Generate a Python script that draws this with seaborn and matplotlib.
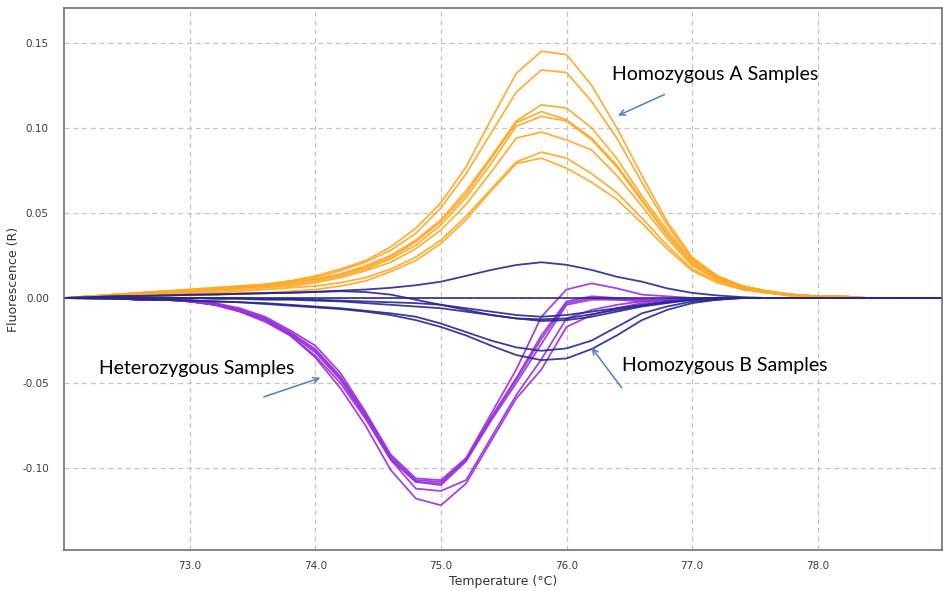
import pandas as pd
import matplotlib
matplotlib.use("Agg")
import matplotlib.pyplot as plt
import seaborn as sns

# Temperature steps (deg C)
temps = [72.0, 72.2, 72.4, 72.6, 72.8, 73.0, 73.2, 73.4, 73.6, 73.8,
         74.0, 74.2, 74.4, 74.6, 74.8, 75.0, 75.2, 75.4, 75.6, 75.8,
         76.0, 76.2, 76.4, 76.6, 76.8, 77.0, 77.2, 77.4, 77.6, 77.8,
         78.0, 78.2, 78.4, 78.6, 78.8, 79.0]

# Homozygous A samples (positive peaks)
hom_a_1 = [0.000, 0.001, 0.002, 0.003, 0.004, 0.005, 0.006, 0.007, 0.008, 0.010,
           0.013, 0.017, 0.022, 0.030, 0.041, 0.056, 0.077, 0.105, 0.132, 0.145,
           0.143, 0.125, 0.100, 0.072, 0.045, 0.024, 0.013, 0.007, 0.004, 0.002,
           0.001, 0.001, 0.000, 0.000, 0.000, 0.000]
hom_a_2 = [0.000, 0.001, 0.002, 0.003, 0.004, 0.005, 0.006, 0.007, 0.008, 0.010,
           0.012, 0.016, 0.021, 0.028, 0.038, 0.053, 0.073, 0.097, 0.121, 0.134,
           0.1325, 0.1155, 0.094, 0.068, 0.043, 0.023, 0.013, 0.007, 0.004, 0.002,
           0.001, 0.001, 0.000, 0.000, 0.000, 0.000]
hom_a_3 = [0.000, 0.001, 0.002, 0.003, 0.004, 0.004, 0.005, 0.006, 0.007, 0.009,
           0.011, 0.014, 0.019, 0.025, 0.034, 0.046, 0.063, 0.083, 0.104, 0.1135,
           0.1116, 0.100, 0.082, 0.060, 0.040, 0.022, 0.012, 0.007, 0.004, 0.002,
           0.001, 0.001, 0.000, 0.000, 0.000, 0.000]
hom_a_4 = [0.000, 0.001, 0.002, 0.003, 0.003, 0.004, 0.005, 0.006, 0.007, 0.009,
           0.011, 0.014, 0.018, 0.024, 0.033, 0.045, 0.061, 0.082, 0.103, 0.1096,
           0.1047, 0.094, 0.078, 0.058, 0.038, 0.021, 0.012, 0.007, 0.004, 0.002,
           0.001, 0.001, 0.000, 0.000, 0.000, 0.000]
hom_a_5 = [0.000, 0.001, 0.002, 0.002, 0.003, 0.004, 0.005, 0.006, 0.007, 0.008,
           0.010, 0.013, 0.017, 0.023, 0.031, 0.043, 0.059, 0.079, 0.101, 0.1067,
           0.104, 0.093, 0.077, 0.057, 0.037, 0.020, 0.011, 0.006, 0.003, 0.002,
           0.001, 0.000, 0.000, 0.000, 0.000, 0.000]
hom_a_6 = [0.000, 0.001, 0.001, 0.002, 0.003, 0.004, 0.004, 0.005, 0.006, 0.007,
           0.009, 0.012, 0.016, 0.021, 0.029, 0.040, 0.055, 0.074, 0.094, 0.0975,
           0.0929, 0.087, 0.072, 0.054, 0.035, 0.019, 0.011, 0.006, 0.003, 0.002,
           0.001, 0.000, 0.000, 0.000, 0.000, 0.000]
hom_a_7 = [0.000, 0.000, 0.001, 0.001, 0.002, 0.003, 0.003, 0.004, 0.005, 0.006,
           0.007, 0.009, 0.012, 0.017, 0.024, 0.034, 0.048, 0.064, 0.080, 0.0857,
           0.0822, 0.073, 0.062, 0.047, 0.031, 0.017, 0.010, 0.005, 0.003, 0.002,
           0.001, 0.000, 0.000, 0.000, 0.000, 0.000]
hom_a_8 = [0.000, 0.000, 0.000, 0.001, 0.001, 0.002, 0.002, 0.003, 0.003, 0.004,
           0.005, 0.007, 0.010, 0.0155, 0.022, 0.032, 0.046, 0.063, 0.079, 0.0822,
           0.0763, 0.068, 0.058, 0.044, 0.029, 0.016, 0.009, 0.005, 0.003, 0.001,
           0.001, 0.000, 0.000, 0.000, 0.000, 0.000]

# Heterozygous samples (deep negative troughs)
het_1 = [0.000, 0.000, 0.000, -0.001, -0.001, -0.001, -0.003, -0.006, -0.011, -0.019,
         -0.028, -0.044, -0.067, -0.092, -0.106, -0.107, -0.094, -0.068, -0.042, -0.011,
         0.005, 0.0086, 0.0057, 0.002, 0.001, 0.000, 0.000, 0.000, 0.000, 0.000,
         0.000, 0.000, 0.000, 0.000, 0.000, 0.000]
het_2 = [0.000, 0.000, 0.000, -0.001, -0.001, -0.002, -0.003, -0.007, -0.012, -0.020,
         -0.030, -0.046, -0.068, -0.093, -0.107, -0.108, -0.095, -0.070, -0.047, -0.022,
         -0.002, 0.001, 0.000, -0.001, -0.001, 0.000, 0.000, 0.000, 0.000, 0.000,
         0.000, 0.000, 0.000, 0.000, 0.000, 0.000]
het_3 = [0.000, 0.000, 0.000, -0.001, -0.001, -0.002, -0.004, -0.007, -0.012, -0.021,
         -0.031, -0.047, -0.069, -0.094, -0.108, -0.109, -0.095, -0.071, -0.048, -0.024,
         -0.003, 0.000, -0.001, -0.001, -0.001, 0.000, 0.000, 0.000, 0.000, 0.000,
         0.000, 0.000, 0.000, 0.000, 0.000, 0.000]
het_4 = [0.000, 0.000, 0.000, -0.001, -0.001, -0.002, -0.004, -0.007, -0.013, -0.021,
         -0.032, -0.048, -0.070, -0.095, -0.108, -0.110, -0.096, -0.072, -0.050, -0.027,
         -0.004, -0.001, -0.001, -0.002, -0.001, 0.000, 0.000, 0.000, 0.000, 0.000,
         0.000, 0.000, 0.000, 0.000, 0.000, 0.000]
het_5 = [0.000, 0.000, 0.000, -0.001, -0.001, -0.002, -0.004, -0.008, -0.013, -0.022,
         -0.034, -0.050, -0.071, -0.095, -0.112, -0.1134, -0.107, -0.082, -0.057, -0.036,
         -0.012, -0.007, -0.004, -0.002, -0.001, 0.000, 0.000, 0.000, 0.000, 0.000,
         0.000, 0.000, 0.000, 0.000, 0.000, 0.000]
het_6 = [0.000, 0.000, 0.000, -0.001, -0.001, -0.002, -0.004, -0.008, -0.014, -0.022,
         -0.035, -0.053, -0.075, -0.101, -0.1178, -0.1218, -0.109, -0.084, -0.059, -0.042,
         -0.017, -0.010, -0.006, -0.003, -0.001, 0.000, 0.000, 0.000, 0.000, 0.000,
         0.000, 0.000, 0.000, 0.000, 0.000, 0.000]

# Homozygous B samples (small curves around zero)
hom_b_1 = [0.000, 0.0005, 0.001, 0.0012, 0.0015, 0.0018, 0.002, 0.0024, 0.0028, 0.0032,
           0.0037, 0.0043, 0.005, 0.006, 0.0075, 0.0096, 0.013, 0.0165, 0.0194, 0.021,
           0.0195, 0.0165, 0.0125, 0.0096, 0.0057, 0.003, 0.0015, 0.0005, 0.000, 0.000,
           0.000, 0.000, 0.000, 0.000, 0.000, 0.000]
hom_b_2 = [0.0] * 36
hom_b_3 = [0.000, 0.000, 0.000, 0.000, 0.000, 0.000, 0.000, 0.000, -0.0005, -0.0005,
           -0.001, -0.0015, -0.002, -0.0025, -0.003, -0.004, -0.006, -0.008, -0.010, -0.011,
           -0.010, -0.008, -0.006, -0.004, -0.002, -0.001, 0.000, 0.000, 0.000, 0.000,
           0.000, 0.000, 0.000, 0.000, 0.000, 0.000]
hom_b_4 = [0.000, 0.000, 0.000, 0.000, 0.000, 0.000, -0.0005, -0.0005, -0.001, -0.001,
           -0.0015, -0.002, -0.003, -0.004, -0.005, -0.006, -0.008, -0.010, -0.012, -0.0125,
           -0.012, -0.0095, -0.007, -0.0045, -0.0025, -0.001, 0.000, 0.000, 0.000, 0.000,
           0.000, 0.000, 0.000, 0.000, 0.000, 0.000]
hom_b_5 = [0.000, 0.0005, 0.001, 0.0012, 0.0015, 0.002, 0.0022, 0.0025, 0.0028, 0.003,
           0.0035, 0.004, 0.0035, 0.002, -0.001, -0.004, -0.007, -0.010, -0.012, -0.0135,
           -0.013, -0.011, -0.008, -0.005, -0.003, -0.001, 0.000, 0.000, 0.000, 0.000,
           0.000, 0.000, 0.000, 0.000, 0.000, 0.000]
hom_b_6 = [0.000, -0.0003, -0.0005, -0.0008, -0.001, -0.0015, -0.002, -0.0025, -0.003, -0.004,
           -0.005, -0.006, -0.0075, -0.009, -0.011, -0.015, -0.020, -0.025, -0.029, -0.031,
           -0.0296, -0.025, -0.017, -0.009, -0.005, -0.002, -0.001, 0.000, 0.000, 0.000,
           0.000, 0.000, 0.000, 0.000, 0.000, 0.000]
hom_b_7 = [0.000, -0.0003, -0.0005, -0.0008, -0.001, -0.0015, -0.002, -0.0025, -0.0035, -0.0045,
           -0.0055, -0.0065, -0.008, -0.010, -0.013, -0.017, -0.022, -0.028, -0.0335, -0.0365,
           -0.0355, -0.030, -0.022, -0.013, -0.007, -0.003, -0.001, 0.000, 0.000, 0.000,
           0.000, 0.000, 0.000, 0.000, 0.000, 0.000]

groups = {
    "Homozygous A": [hom_a_1, hom_a_2, hom_a_3, hom_a_4, hom_a_5, hom_a_6, hom_a_7, hom_a_8],
    "Heterozygous": [het_1, het_2, het_3, het_4, het_5, het_6],
    "Homozygous B": [hom_b_1, hom_b_2, hom_b_3, hom_b_4, hom_b_5, hom_b_6, hom_b_7],
}
colors = {"Homozygous A": "#ffa824", "Heterozygous": "#9a30dc", "Homozygous B": "#27278e"}

x_ticks = [73.0, 74.0, 75.0, 76.0, 77.0, 78.0]
y_ticks = [-0.10, -0.05, 0.00, 0.05, 0.10, 0.15]

# Build long-form table
rows = []
for group, curves in groups.items():
    for i, curve in enumerate(curves):
        rows.append(pd.DataFrame({"temp": temps, "fluor": curve,
                                  "group": group, "sample": f"{group}_{i}"}))
df = pd.concat(rows, ignore_index=True)

sns.set_style("white")
fig = plt.figure(figsize=(9.43, 5.91), dpi=100)
ax = fig.add_axes([0.068, 0.069, 0.931, 0.918])

for group in ["Homozygous A", "Heterozygous", "Homozygous B"]:
    sns.lineplot(data=df[df["group"] == group], x="temp", y="fluor", units="sample",
                 estimator=None, color=colors[group], linewidth=1.3, alpha=0.9, ax=ax)

ax.set_xlim(72.0, 78.99)
ax.set_ylim(-0.1482, 0.1706)
ax.set_xticks(x_ticks)
ax.set_xticklabels([f"{t:.1f}" for t in x_ticks])
ax.set_yticks(y_ticks)
ax.set_yticklabels([f"{t:.2f}" for t in y_ticks])
ax.tick_params(length=0, labelsize=7.5, labelcolor="#3a3a3a")
ax.tick_params(axis="y", pad=11)
ax.tick_params(axis="x", pad=8)
ax.grid(True, color="#c4c4c4", linestyle=(0, (4, 3)), linewidth=0.9)
ax.set_axisbelow(True)
for side in ax.spines.values():
    side.set_color("#707078")
    side.set_linewidth(1.2)

ax.set_xlabel("Temperature (°C)", fontsize=9, color="#333333", labelpad=3)
ax.set_ylabel("Fluorescence (R)", fontsize=9, color="#333333")
ax.yaxis.set_label_coords(-0.05, 0.5)

# Annotations
arrow_kw = dict(arrowstyle="->", color="#4f81bd", lw=1.1, shrinkA=0, shrinkB=0)
text_kw = dict(fontsize=14, family="Lato", va="center", color="black")
ax.text(76.36, 0.1314, "Homozygous A Samples", **text_kw)
ax.annotate("", xy=(76.41, 0.1072), xytext=(76.78, 0.1196), arrowprops=arrow_kw)
ax.text(72.28, -0.0416, "Heterozygous Samples", **text_kw)
ax.annotate("", xy=(74.04, -0.0469), xytext=(73.59, -0.0581), arrowprops=arrow_kw)
ax.text(76.44, -0.0398, "Homozygous B Samples", **text_kw)
ax.annotate("", xy=(76.20, -0.0292), xytext=(76.44, -0.0528), arrowprops=arrow_kw)

fig.savefig("out.png", dpi=100)
